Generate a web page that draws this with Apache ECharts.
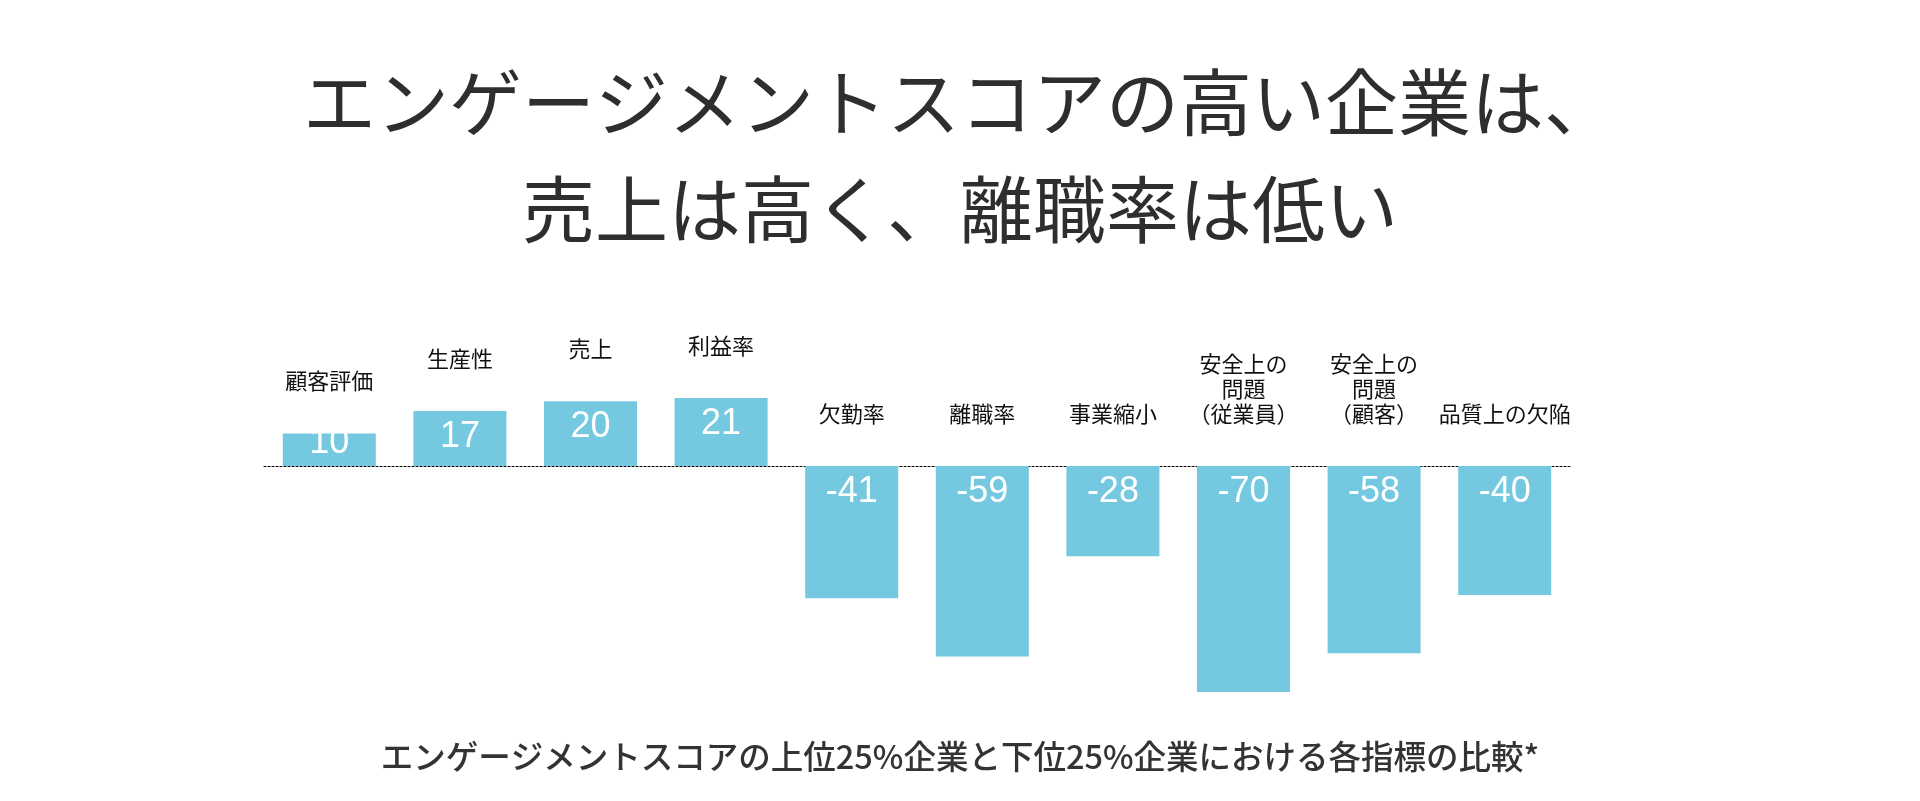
<!DOCTYPE html>
<html>
<head>
<meta charset="utf-8">
<title>エンゲージメントスコア</title>
<script src="https://cdn.jsdelivr.net/npm/echarts@6/dist/echarts.min.js"></script>
<style>
  html, body { margin: 0; padding: 0; background: #fff; }
  #chart { width: 1920px; height: 801px; }
</style>
</head>
<body>
<div id="chart"></div>
<script>
// 指標名と上位25%/下位25%の差
const categories = [
  "顧客評価", "生産性", "売上", "利益率", "欠勤率", "離職率", "事業縮小",
  "安全上の\n問題\n（従業員）", "安全上の\n問題\n（顧客）", "品質上の欠陥"
];
const values = [10, 17, 20, 21, -41, -59, -28, -70, -58, -40];

const titleLines = ["エンゲージメントスコアの高い企業は、", "売上は高く、離職率は低い"];
const subText = "エンゲージメントスコアの上位25%企業と下位25%企業における各指標の比較*";

const chart = echarts.init(document.getElementById("chart"));

// 短い棒はラベルが上にはみ出す
const barData = values.map(v => (v > 0 && v < 15 ? { value: v, label: { offset: [0, -17] } } : v));
// 項目名は棒の上(マイナスは基準線の上)に置く
const nameData = values.map(v => Math.max(v, 0));

const titleStyle = {
  fontFamily: "Noto Sans CJK JP",
  fontSize: 73,
  fontWeight: "normal",
  color: "#2e2e2e",
  lineHeight: 104
};

const option = {
  animation: false,
  backgroundColor: "#fff",
  title: [
    { text: titleLines[0], left: "center", top: 50, padding: 0, textStyle: titleStyle },
    { text: titleLines[1], left: "center", top: 157, padding: 0, textStyle: titleStyle },
    {
      text: subText,
      left: "center",
      top: 737,
      padding: 0,
      textStyle: {
        fontFamily: "Noto Sans CJK JP",
        fontSize: 32.5,
        fontWeight: 500,
        color: "#333",
        lineHeight: 40
      }
    }
  ],
  grid: { left: 264, right: 350, top: 369, bottom: 109 },
  xAxis: {
    type: "category",
    data: categories,
    axisTick: { show: false },
    axisLabel: { show: false },
    axisLine: { lineStyle: { color: "#000", width: 1, type: [2, 2] } }
  },
  yAxis: {
    type: "value",
    min: -70,
    max: 30,
    show: false,
    splitLine: { show: false }
  },
  series: [
    {
      type: "bar",
      data: barData,
      barWidth: 93,
      itemStyle: { color: "#74c9e0" },
      label: {
        show: true,
        position: "insideTop",
        distance: 8,
        color: "#fff",
        fontFamily: "Liberation Sans",
        fontSize: 36
      }
    },
    {
      type: "bar",
      data: nameData,
      barWidth: 93,
      barGap: "-100%",
      itemStyle: { color: "transparent" },
      label: {
        show: true,
        position: "top",
        distance: 40,
        color: "#111",
        fontFamily: "Noto Sans CJK JP",
        fontSize: 22,
        lineHeight: 25,
        align: "center",
        formatter: p => categories[p.dataIndex]
      }
    }
  ]
};
chart.setOption(option);
</script>
</body>
</html>
